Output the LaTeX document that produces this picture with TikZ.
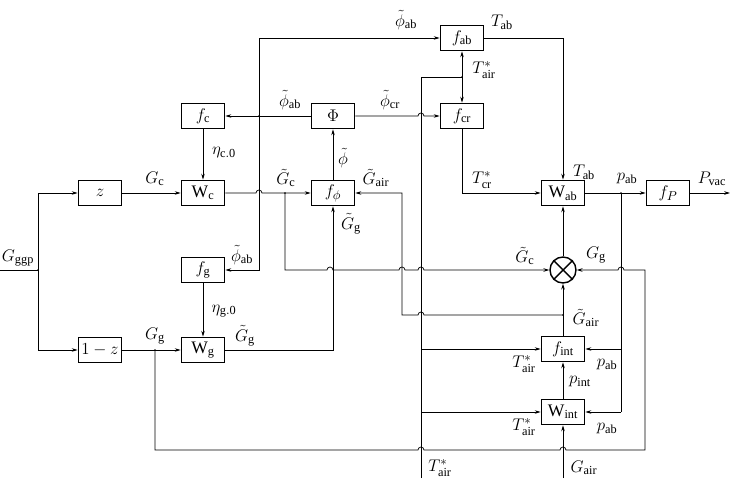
\documentclass[tikz,border=0pt]{standalone}
\usepackage{fontspec}
\setmainfont{Liberation Serif}
\usetikzlibrary{arrows.meta}

\begin{document}
\begin{tikzpicture}[x=0.03cm,y=-0.03cm,
	blk/.style={draw=black,line width=1.2pt,minimum width=1.3cm,minimum height=0.76cm,inner sep=0pt},
	lbl/.style={font=\fontsize{15}{17}\selectfont},
	>={Stealth[length=5pt,width=3pt]},line width=0.6pt]
	\useasboundingbox (0,0) rectangle (730,486);

	\node[blk,lbl] (z)    at (100,193) {$z$};
	\node[blk,lbl] (onez) at (100,350) {$1-z$};
	\node[blk,lbl] (fc)   at (203,116) {$f_{\mathrm{c}}$};
	\node[blk,lbl] (Wc)   at (203,193) {W$_{\mathrm{c}}$};
	\node[blk,lbl] (fg)   at (203,270) {$f_{\mathrm{g}}$};
	\node[blk,lbl] (Wg)   at (203,350) {W$_{\mathrm{g}}$};
	\node[blk,lbl] (Phi)  at (333,116) {$\Phi$};
	\node[blk,lbl] (fphi) at (333,193) {$f_{\phi}$};
	\node[blk,lbl] (fab)  at (462,38)  {$f_{\mathrm{ab}}$};
	\node[blk,lbl] (fcr)  at (462,116) {$f_{\mathrm{cr}}$};
	\node[blk,lbl] (Wab)  at (563,193) {W$_{\mathrm{ab}}$};
	\node[blk,lbl] (fP)   at (668,193) {$f_P$};
	\node[blk,lbl] (fint) at (563,349) {$f_{\mathrm{int}}$};
	\node[blk,lbl] (Wint) at (563,412) {W$_{\mathrm{int}}$};
	\node[draw=black,line width=1.2pt,circle,minimum size=0.78cm,inner sep=0pt] (ot) at (563,270) {};
	\draw[line width=1.2pt] (ot.45) -- (ot.225) (ot.135) -- (ot.315);

	\coordinate (in)   at (0,270);
	\coordinate (j0)   at (38,270);
	\coordinate (jphi) at (259,116);
	\coordinate (jc)   at (285,193);
	\coordinate (jg)   at (155,350);
	\coordinate (jt)   at (462,77);
	\coordinate (ja)   at (563,315);
	\coordinate (jp)   at (621,193);
	\coordinate (tin)  at (421,478);
	\coordinate (gin)  at (563,478);
	\coordinate (out)  at (730,193);

	% left part
	\draw (in) -- (j0);
	\draw[->] (j0) |- (z);
	\draw[->] (j0) |- (onez);
	\draw[->] (z) -- (Wc);
	\draw[->] (onez) -- (Wg);
	\draw[->] (fc) -- (Wc);
	\draw[->] (fg) -- (Wg);
	\draw[->] (Wc) -- (256,193) arc[start angle=180,end angle=0,radius=2.55pt] -- (fphi);
	\draw[->] (Wg) -| (fphi);
	\draw[->] (fphi) -- (Phi);
	\draw[->] (Phi) -- (fc);
	\draw[->] (jphi) |- (fab);
	\draw[->] (jphi) |- (fg);
	\draw[->] (jc) |- (327,270) arc[start angle=180,end angle=0,radius=2.55pt]
		-- (399,270) arc[start angle=180,end angle=0,radius=2.55pt]
		-- (418,270) arc[start angle=180,end angle=0,radius=2.55pt] -- (ot);
	\draw[->] (jg) -- (155,450) -- (418,450) arc[start angle=180,end angle=0,radius=2.55pt]
		-- (560,450) arc[start angle=180,end angle=0,radius=2.55pt]
		-- (645,450) -- (645,270) -- (624,270) arc[start angle=0,end angle=180,radius=2.55pt] -- (ot);

	% right part
	\draw[->] (Phi) -- (418,116) arc[start angle=180,end angle=0,radius=2.55pt] -- (fcr);
	\draw (tin) -- (421,77) -- (jt);
	\draw[->] (jt) -- (fab);
	\draw[->] (jt) -- (fcr);
	\draw[->] (421,349) -- (fint);
	\draw[->] (421,412) -- (Wint);
	\draw[->] (ja) -- (424,315) arc[start angle=0,end angle=180,radius=2.55pt] -- (402,315) -- (402,193) -- (fphi);
	\draw[->] (fab) -| (Wab);
	\draw[->] (fcr) |- (Wab);
	\draw[->] (ot) -- (Wab);
	\draw[->] (fint) -- (ot);
	\draw[->] (Wint) -- (fint);
	\draw[->] (gin) -- (Wint);
	\draw[->] (Wab) -- (fP);
	\draw[->] (fP) -- (out);
	\draw (jp) -- (621,412);
	\draw[->] (621,349) -- (fint);
	\draw[->] (621,412) -- (Wint);

	\foreach \p in {j0,jphi,jc,jg,jt,ja,jp}
		\fill (\p) circle (0.7pt);

	% labels
	\node[lbl] at (18,258)  {$G_{\mathrm{ggp}}$};
	\node[lbl] at (155,179) {$G_{\mathrm{c}}$};
	\node[lbl] at (155,336) {$G_{\mathrm{g}}$};
	\node[lbl] at (224,153) {$\eta_{\mathrm{c.0}}$};
	\node[lbl] at (224,311) {$\eta_{\mathrm{g.0}}$};
	\node[lbl] at (242,255) {$\tilde{\phi}_{\mathrm{ab}}$};
	\node[lbl] at (245,336) {$\tilde{G}_{\mathrm{g}}$};
	\node[lbl] at (290,100) {$\tilde{\phi}_{\mathrm{ab}}$};
	\node[lbl] at (406,20)  {$\tilde{\phi}_{\mathrm{ab}}$};
	\node[lbl] at (390,100) {$\tilde{\phi}_{\mathrm{cr}}$};
	\node[lbl] at (286,178) {$\tilde{G}_{\mathrm{c}}$};
	\node[lbl] at (343,158) {$\tilde{\phi}$};
	\node[lbl] at (376,178) {$\tilde{G}_{\mathrm{air}}$};
	\node[lbl] at (351,224) {$\tilde{G}_{\mathrm{g}}$};
	\node[lbl] at (484,70)  {$T^*_{\mathrm{air}}$};
	\node[lbl] at (502,22)  {$T_{\mathrm{ab}}$};
	\node[lbl] at (584,172) {$T_{\mathrm{ab}}$};
	\node[lbl] at (482,180) {$T^*_{\mathrm{cr}}$};
	\node[lbl] at (627,179) {$p_{\mathrm{ab}}$};
	\node[lbl] at (712,179) {$P_{\mathrm{vac}}$};
	\node[lbl] at (525,256) {$\tilde{G}_{\mathrm{c}}$};
	\node[lbl] at (596,255) {$G_{\mathrm{g}}$};
	\node[lbl] at (586,318) {$\tilde{G}_{\mathrm{air}}$};
	\node[lbl] at (524,364) {$T^*_{\mathrm{air}}$};
	\node[lbl] at (607,365) {$p_{\mathrm{ab}}$};
	\node[lbl] at (580,382) {$p_{\mathrm{int}}$};
	\node[lbl] at (524,427) {$T^*_{\mathrm{air}}$};
	\node[lbl] at (607,429) {$p_{\mathrm{ab}}$};
	\node[lbl] at (440,468) {$T^*_{\mathrm{air}}$};
	\node[lbl] at (584,468) {$G_{\mathrm{air}}$};
\end{tikzpicture}
\end{document}
